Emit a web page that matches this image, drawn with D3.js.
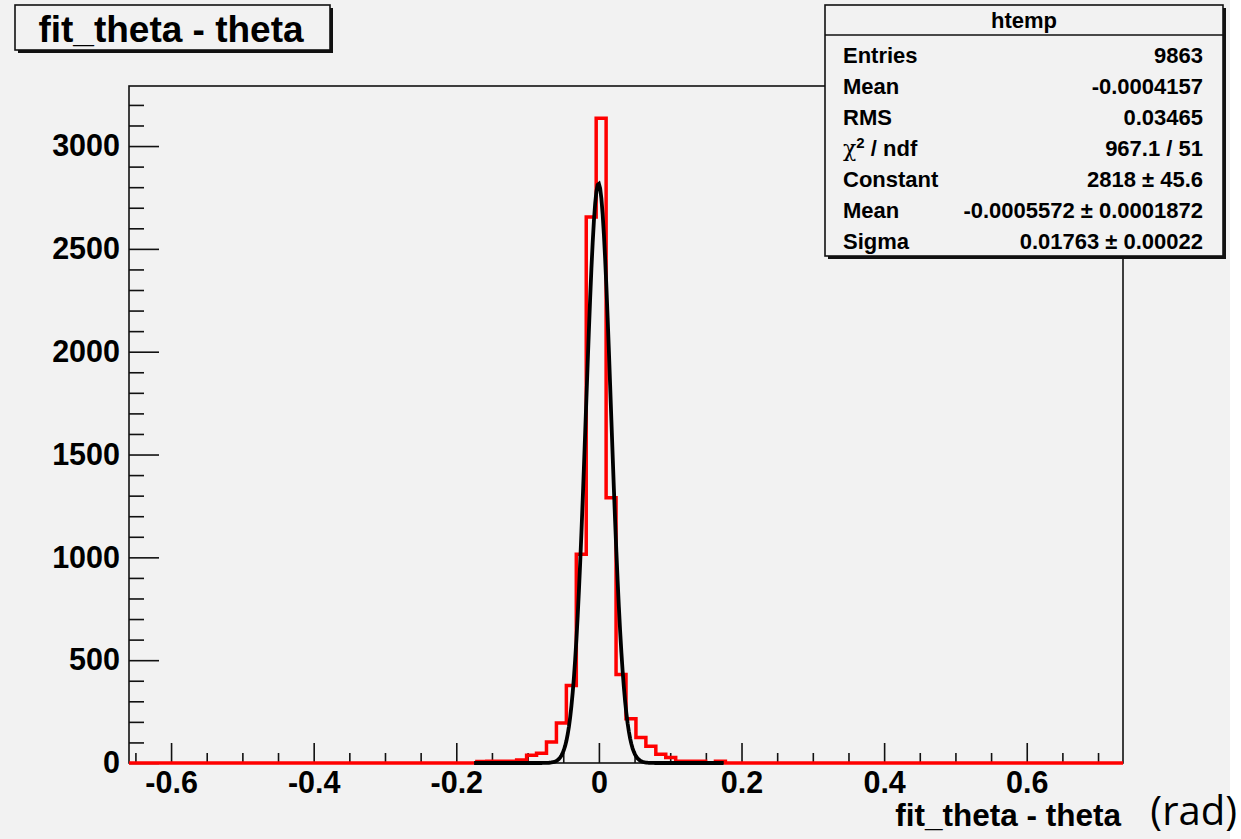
<!DOCTYPE html>
<html>
<head>
<meta charset="utf-8">
<script src="https://cdn.jsdelivr.net/npm/d3@7"></script>
<style>
  html, body { margin: 0; padding: 0; background: #ffffff; }
  svg { display: block; }
  text { font-family: "Liberation Sans", Arial, Helvetica, sans-serif; }
</style>
</head>
<body>
<svg id="chart" width="1241" height="839"></svg>
<script>
// ---------------- data ----------------
const histTitle = "fit_theta - theta";
const xAxisTitle = "fit_theta - theta";
const xUnit = "(rad)";
const histName = "htemp";

const binLow = -0.659;      // low edge of first bin
const binWidth = 0.01394;   // bin width
// red histogram contents, 100 bins
const counts = [
  0,0,0,0,0,0,0,0,0,0,
  0,0,0,0,0,0,0,0,0,0,
  0,0,0,0,0,0,0,0,0,0,
  0,0,0,0,0,7,8,8,9,15,
  38,48,102,195,377,1015,2655,3135,1290,430,
  215,124,82,43,27,8,8,8,1,9,
  0,0,0,0,0,0,0,0,0,0,
  0,0,0,0,0,0,0,0,0,0,
  0,0,0,0,0,0,0,0,0,0,
  0,0,0,0,0,0,0,0,0,0
];

// gaussian fit
const fitConstant = 2818;
const fitMean = -0.0005572;
const fitSigma = 0.01763;
const fitRange = [-0.175, 0.175];

const xDomain = [-0.659, 0.735];
const yDomain = [0, 3292];
const xMajorTicks = [-0.6, -0.4, -0.2, 0, 0.2, 0.4, 0.6];
const xMajorLabels = ["-0.6", "-0.4", "-0.2", "0", "0.2", "0.4", "0.6"];
const xMinorTicks = [-0.65, -0.55, -0.5, -0.45, -0.35, -0.3, -0.25, -0.15, -0.1, -0.05,
                     0.05, 0.1, 0.15, 0.25, 0.3, 0.35, 0.45, 0.5, 0.55, 0.65, 0.7];
const yMajorTicks = [0, 500, 1000, 1500, 2000, 2500, 3000];
const yMinorTicks = [100,200,300,400,600,700,800,900,1100,1200,1300,1400,1600,1700,1800,1900,
                     2100,2200,2300,2400,2600,2700,2800,2900,3100,3200];

const statLabels = ["Entries", "Mean", "RMS", "χ2 / ndf", "Constant", "Mean", "Sigma"];
const statValues = ["9863", "-0.0004157", "0.03465", "967.1 / 51",
                    "2818 ± 45.6", "-0.0005572 ± 0.0001872", "0.01763 ± 0.00022"];

// ---------------- drawing ----------------
const svg = d3.select("#chart");
const W = 1241, H = 839;
const bg = "#f2f2f2";
svg.append("rect").attr("x", 0).attr("y", 0).attr("width", 1230).attr("height", H).attr("fill", bg);

const frame = {left: 129, right: 1123, top: 86, bottom: 763};
const x = d3.scaleLinear().domain(xDomain).range([frame.left, frame.right]);
const y = d3.scaleLinear().domain(yDomain).range([frame.bottom, frame.top]);

// frame
svg.append("rect")
  .attr("x", frame.left).attr("y", frame.top)
  .attr("width", frame.right - frame.left).attr("height", frame.bottom - frame.top)
  .attr("fill", bg).attr("stroke", "#111").attr("stroke-width", 1.6);

const fontAxis = 30.5;

// x axis major
const gx = svg.append("g").attr("transform", `translate(0,${frame.bottom})`)
  .call(d3.axisBottom(x).tickValues(xMajorTicks).tickSize(-20).tickPadding(8)
        .tickFormat((d, i) => xMajorLabels[i]));
gx.select(".domain").remove();
gx.selectAll("line").attr("stroke", "#111").attr("stroke-width", 1.6);
gx.selectAll("text").attr("font-size", fontAxis).attr("font-weight", "bold").attr("fill", "#000")
  .attr("font-family", "'Liberation Sans', Arial, sans-serif");
// x axis minor
const gxm = svg.append("g").attr("transform", `translate(0,${frame.bottom})`)
  .call(d3.axisBottom(x).tickValues(xMinorTicks).tickSize(-10).tickFormat(""));
gxm.select(".domain").remove();
gxm.selectAll("line").attr("stroke", "#111").attr("stroke-width", 1.6);

// y axis major
const gy = svg.append("g").attr("transform", `translate(${frame.left},0)`)
  .call(d3.axisLeft(y).tickValues(yMajorTicks).tickSize(-30).tickPadding(9)
        .tickFormat(d3.format("d")));
gy.select(".domain").remove();
gy.selectAll("line").attr("stroke", "#111").attr("stroke-width", 1.6);
gy.selectAll("text").attr("font-size", fontAxis).attr("font-weight", "bold").attr("fill", "#000")
  .attr("font-family", "'Liberation Sans', Arial, sans-serif");
// y axis minor
const gym = svg.append("g").attr("transform", `translate(${frame.left},0)`)
  .call(d3.axisLeft(y).tickValues(yMinorTicks).tickSize(-15).tickFormat(""));
gym.select(".domain").remove();
gym.selectAll("line").attr("stroke", "#111").attr("stroke-width", 1.6);

// red histogram (step outline)
const pts = counts.map((c, i) => [binLow + i * binWidth, c]);
pts.push([binLow + counts.length * binWidth, counts[counts.length - 1]]);
const stepLine = d3.line().x(d => x(d[0])).y(d => y(d[1])).curve(d3.curveStepAfter);
svg.append("path").attr("d", stepLine(pts))
  .attr("fill", "none").attr("stroke", "#ff0000").attr("stroke-width", 3.5)
  .attr("stroke-linejoin", "miter");

// black gaussian fit
const fitPts = d3.range(0, 201).map(i => {
  const xv = fitRange[0] + i * (fitRange[1] - fitRange[0]) / 200;
  return [xv, fitConstant * Math.exp(-0.5 * Math.pow((xv - fitMean) / fitSigma, 2))];
});
svg.append("path").attr("d", d3.line().x(d => x(d[0])).y(d => y(d[1]))(fitPts))
  .attr("fill", "none").attr("stroke", "#000").attr("stroke-width", 3.8);

// x axis title
svg.append("text").attr("x", 1121).attr("y", 826).attr("text-anchor", "end")
  .attr("font-size", 31.5).attr("font-weight", "bold").text(xAxisTitle);
svg.append("text").attr("x", 1237).attr("y", 825).attr("text-anchor", "end")
  .attr("font-size", 40)
  .style("font-family", "'Open Sans', 'Noto Sans', sans-serif").text(xUnit);

// title box
function shadowBox(x0, y0, x1, y1) {
  svg.append("rect").attr("x", x0 + 3).attr("y", y0 + 3).attr("width", x1 - x0).attr("height", y1 - y0)
    .attr("fill", "#111");
  svg.append("rect").attr("x", x0).attr("y", y0).attr("width", x1 - x0).attr("height", y1 - y0)
    .attr("fill", bg).attr("stroke", "#111").attr("stroke-width", 1.6);
}
shadowBox(15, 5, 330, 50);
svg.append("text").attr("x", 171).attr("y", 41.5).attr("text-anchor", "middle")
  .attr("font-size", 37).attr("font-weight", "bold").text(histTitle);

// stats box
shadowBox(825, 5, 1223, 256);
svg.append("line").attr("x1", 825).attr("x2", 1223).attr("y1", 35).attr("y2", 35)
  .attr("stroke", "#111").attr("stroke-width", 1.6);
svg.append("text").attr("x", 1024).attr("y", 28).attr("text-anchor", "middle")
  .attr("font-size", 22).attr("font-weight", "bold").text(histName);
const rowY = i => 62.5 + i * 31;
statLabels.forEach((lab, i) => {
  const t = svg.append("text").attr("x", 843).attr("y", rowY(i))
    .attr("font-size", 22).attr("font-weight", "bold");
  if (lab.startsWith("χ2")) {
    t.append("tspan").attr("font-weight", "normal").attr("font-family", "'DejaVu Serif', serif").text("χ");
    t.append("tspan").attr("font-size", 15).attr("dy", -8).text("2");
    t.append("tspan").attr("dy", 8).text(" / ndf");
  } else {
    t.text(lab);
  }
});
statValues.forEach((v, i) => {
  svg.append("text").attr("x", 1203).attr("y", rowY(i)).attr("text-anchor", "end")
    .attr("font-size", 22).attr("font-weight", "bold").text(v);
});
</script>
</body>
</html>
